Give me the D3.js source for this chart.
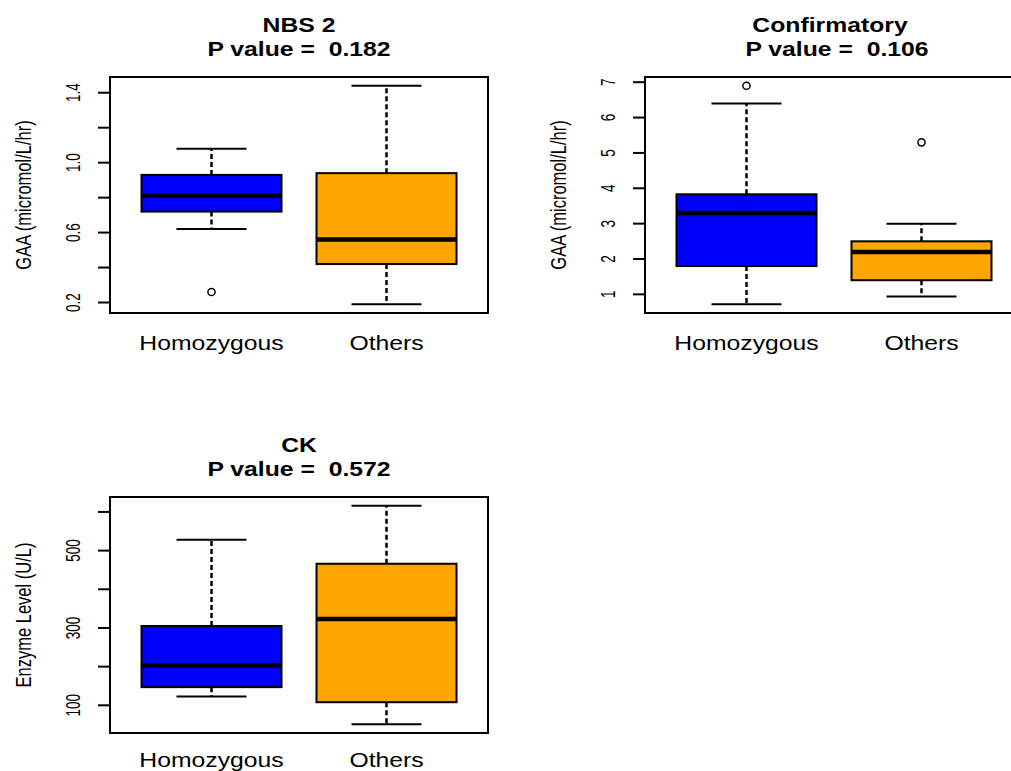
<!DOCTYPE html>
<html>
<head>
<meta charset="utf-8">
<script src="https://cdn.jsdelivr.net/npm/d3@7"></script>
<style>
  html, body { margin: 0; padding: 0; background: #fff; }
  svg { display: block; font-family: "Liberation Sans", Arial, sans-serif; }
  text { white-space: pre; }
</style>
</head>
<body>
<svg id="chart" width="1011" height="771"></svg>
<script>
// ---------------- data ----------------
const groups = ["Homozygous", "Others"];
const groupColors = ["#0000FF", "#FFA500"];

// five-number summaries: [lower whisker, Q1, median, Q3, upper whisker]
const nbs2Homozygous = [0.62, 0.72, 0.81, 0.93, 1.08];
const nbs2Others     = [0.19, 0.42, 0.56, 0.94, 1.44];
const nbs2Outliers   = [[0.26], []];
const nbs2Ticks      = [0.2, 0.4, 0.6, 0.8, 1.0, 1.2, 1.4];
const nbs2TickLabels = [0.2, 0.6, 1.0, 1.4];

const confHomozygous = [0.72, 1.8, 3.3, 3.83, 6.4];
const confOthers     = [0.94, 1.4, 2.2, 2.5, 3.0];
const confOutliers   = [[6.9], [5.3]];
const confTicks      = [1, 2, 3, 4, 5, 6, 7];
const confTickLabels = [1, 2, 3, 4, 5, 6, 7];

const ckHomozygous = [123, 147, 203, 305, 528];
const ckOthers     = [51, 108, 323, 466, 616];
const ckOutliers   = [[], []];
const ckTicks      = [100, 200, 300, 400, 500, 600];
const ckTickLabels = [100, 300, 500];

const titles  = ["NBS 2", "Confirmatory", "CK"];
const pValues = ["0.182", "0.106", "0.572"];
const yLabels = ["GAA (micromol/L/hr)", "GAA (micromol/L/hr)", "Enzyme Level (U/L)"];

// ---------------- layout ----------------
const panels = [
  { stats: [nbs2Homozygous, nbs2Others], out: nbs2Outliers, ticks: nbs2Ticks, labels: nbs2TickLabels, fmt: d3.format(".1f"),
    left: 110, right: 488, top: 77, bottom: 313 },
  { stats: [confHomozygous, confOthers], out: confOutliers, ticks: confTicks, labels: confTickLabels, fmt: d3.format("d"),
    left: 645, right: 1023, top: 77, bottom: 313 },
  { stats: [ckHomozygous, ckOthers], out: ckOutliers, ticks: ckTicks, labels: ckTickLabels, fmt: d3.format("d"),
    left: 110, right: 488, top: 497, bottom: 733 }
];

const svg = d3.select("#chart");
const SX = 1.27;   // horizontal stretch seen in the reference image

function stretchedText(g, x, y, txt, size, weight, rotate, sx) {
  const t = g.append("g").attr("transform", `translate(${x},${y}) scale(${sx},1)` + (rotate ? " rotate(-90)" : ""));
  t.append("text")
    .attr("text-anchor", "middle")
    .attr("font-size", size)
    .attr("font-weight", weight)
    .attr("fill", "#000")
    .attr("xml:space", "preserve")
    .text(txt);
}

panels.forEach((p, i) => {
  const g = svg.append("g");
  const all = p.stats.flat().concat(p.out.flat());
  const [mn, mx] = d3.extent(all);
  const pad = (mx - mn) * 0.04;
  const y = d3.scaleLinear().domain([mn - pad, mx + pad]).range([p.bottom, p.top]);
  const x = d3.scaleLinear().domain([0.42, 2.58]).range([p.left, p.right]);
  const halfW = (x(1.4) - x(1));        // box width 0.8 -> half 0.4
  const capW = halfW / 2;

  p.stats.forEach((s, j) => {
    const cx = x(j + 1);
    const [lo, q1, med, q3, hi] = s;
    g.append("line").attr("x1", cx).attr("x2", cx).attr("y1", y(q3)).attr("y2", y(hi))
      .attr("stroke", "#000").attr("stroke-width", 2.5).attr("stroke-dasharray", "5,3");
    g.append("line").attr("x1", cx).attr("x2", cx).attr("y1", y(q1)).attr("y2", y(lo))
      .attr("stroke", "#000").attr("stroke-width", 2.5).attr("stroke-dasharray", "5,3");
    [lo, hi].forEach(v => {
      g.append("line").attr("x1", cx - capW).attr("x2", cx + capW).attr("y1", y(v)).attr("y2", y(v))
        .attr("stroke", "#000").attr("stroke-width", 2);
    });
    g.append("rect").attr("x", cx - halfW).attr("y", y(q3)).attr("width", 2 * halfW).attr("height", y(q1) - y(q3))
      .attr("fill", groupColors[j]).attr("stroke", "#000").attr("stroke-width", 2);
    g.append("line").attr("x1", cx - halfW).attr("x2", cx + halfW).attr("y1", y(med)).attr("y2", y(med))
      .attr("stroke", "#000").attr("stroke-width", 4.5);
    p.out[j].forEach(v => {
      g.append("circle").attr("cx", cx).attr("cy", y(v)).attr("r", 3.6)
        .attr("fill", "none").attr("stroke", "#000").attr("stroke-width", 1.5);
    });
  });

  g.append("rect").attr("x", p.left).attr("y", p.top).attr("width", p.right - p.left).attr("height", p.bottom - p.top)
    .attr("fill", "none").attr("stroke", "#000").attr("stroke-width", 2);

  p.ticks.forEach(t => {
    g.append("line").attr("x1", p.left - 12).attr("x2", p.left).attr("y1", y(t)).attr("y2", y(t))
      .attr("stroke", "#000").attr("stroke-width", 2);
  });
  p.labels.forEach(t => {
    stretchedText(g, p.left - 30, y(t), p.fmt(t), 13.5, "normal", true, 1.45);
  });

  stretchedText(g, p.left - 79, (p.top + p.bottom) / 2, yLabels[i], 16.5, "normal", true, 1.3);

  groups.forEach((gname, j) => {
    stretchedText(g, x(j + 1), Math.min(p.bottom + 37, 767), gname, 19.5, "normal", false, SX);
  });

  const tcx = (p.left + p.right) / 2 + (i === 1 ? -4 : 0);
  stretchedText(g, tcx, p.top - 45, titles[i], 19.5, "bold", false, SX);
  stretchedText(g, tcx + (i === 1 ? 7 : 0), p.top - 21, "P value =  " + pValues[i], 19.5, "bold", false, SX);
});
</script>
</body>
</html>
